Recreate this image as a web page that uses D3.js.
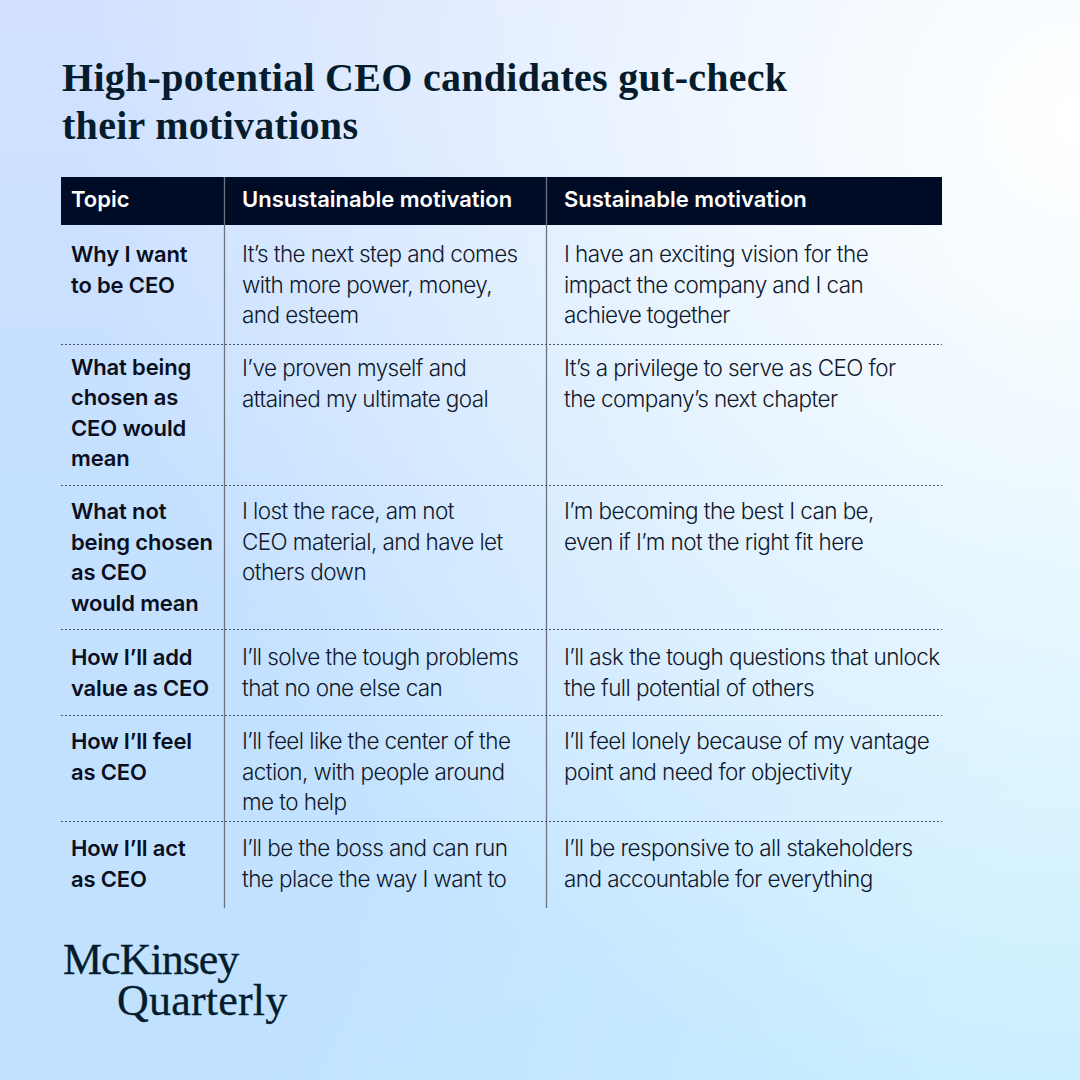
<!DOCTYPE html>
<html>
<head>
<meta charset="utf-8">
<script src="https://cdn.jsdelivr.net/npm/d3@7"></script>
<style>
  html, body { margin: 0; padding: 0; }
  svg { display: block; }
  .title { font-family: "Liberation Serif", serif; font-weight: 700; font-size: 40px; letter-spacing: 0.28px; fill: #051c2c; }
  .head { font-family: Inter, sans-serif; font-weight: 600; font-size: 22px; fill: #fff; }
  .topic { font-family: Inter, sans-serif; font-weight: 600; font-size: 22px; letter-spacing: -0.15px; fill: #0a0f1e; }
  .cell { font-family: Inter, sans-serif; font-weight: 300; font-size: 22.5px; letter-spacing: -0.58px; fill: #10182a; }
  .logo { font-family: "Liberation Serif", serif; font-size: 44px; fill: #051c2c; stroke: #051c2c; stroke-width: 0.3px; }
</style>
</head>
<body>
<svg></svg>
<script>
// Chart content
let titleLines = ["High-potential CEO candidates gut-check", "their motivations"];
let headers = ["Topic", "Unsustainable motivation", "Sustainable motivation"];
let topics = [
  ["Why I want", "to be CEO"],
  ["What being", "chosen as", "CEO would", "mean"],
  ["What not", "being chosen", "as CEO", "would mean"],
  ["How I’ll add", "value as CEO"],
  ["How I’ll feel", "as CEO"],
  ["How I’ll act", "as CEO"]
];
let unsustainable = [
  ["It’s the next step and comes", "with more power, money,", "and esteem"],
  ["I’ve proven myself and", "attained my ultimate goal"],
  ["I lost the race, am not", "CEO material, and have let", "others down"],
  ["I’ll solve the tough problems", "that no one else can"],
  ["I’ll feel like the center of the", "action, with people around", "me to help"],
  ["I’ll be the boss and can run", "the place the way I want to"]
];
let sustainable = [
  ["I have an exciting vision for the", "impact the company and I can", "achieve together"],
  ["It’s a privilege to serve as CEO for", "the company’s next chapter"],
  ["I’m becoming the best I can be,", "even if I’m not the right fit here"],
  ["I’ll ask the tough questions that unlock", "the full potential of others"],
  ["I’ll feel lonely because of my vantage", "point and need for objectivity"],
  ["I’ll be responsive to all stakeholders", "and accountable for everything"]
];
let logoLines = ["McKinsey", "Quarterly"];

// Layout
let svgWidth = 1080, svgHeight = 1080;
let rowEdges = [225, 344, 485, 629, 715, 821, 908];
let firstLineOffset = [37, 32, 34, 36, 34, 35];
let topicNudge = [0, -1.5, 0, 0, 0, 0];
let lineHeight = 30.6;
let columnX = [71, 242, 564];
let rule = [224.5, 546.5];
let logoX = [63, 117], logoY = [974, 1015], logoSpacing = [-1, 0.2];

let svg = d3.select("svg")
    .attr("width", svgWidth)
    .attr("height", svgHeight);

// Background: blue base, cyan towards the bottom right, white glow top right
let defs = svg.append("defs");
let base = defs.append("linearGradient")
    .attr("id", "bgBase")
    .attr("x1", 0).attr("y1", 0).attr("x2", 0).attr("y2", 1);
base.append("stop").attr("offset", "0%").attr("stop-color", "#d2e1ff");
base.append("stop").attr("offset", "45%").attr("stop-color", "#c4e0ff");
base.append("stop").attr("offset", "100%").attr("stop-color", "#c0e2ff");

let cyan = defs.append("linearGradient")
    .attr("id", "bgCyan")
    .attr("gradientUnits", "userSpaceOnUse")
    .attr("x1", 300).attr("y1", 700).attr("x2", 1000).attr("y2", 900);
cyan.append("stop").attr("offset", "0%").attr("stop-color", "#c8eaff").attr("stop-opacity", 0);
cyan.append("stop").attr("offset", "100%").attr("stop-color", "#c8eeff").attr("stop-opacity", 1);

let glow = defs.append("radialGradient")
    .attr("id", "bgWhite")
    .attr("gradientUnits", "userSpaceOnUse")
    .attr("cx", 1080).attr("cy", 120).attr("r", 1000);
glow.append("stop").attr("offset", "0%").attr("stop-color", "#ffffff").attr("stop-opacity", 1);
glow.append("stop").attr("offset", "35%").attr("stop-color", "#ffffff").attr("stop-opacity", 0.7);
glow.append("stop").attr("offset", "100%").attr("stop-color", "#ffffff").attr("stop-opacity", 0);

["bgBase", "bgCyan", "bgWhite"].forEach(id => {
  svg.append("rect").attr("width", svgWidth).attr("height", svgHeight).attr("fill", `url(#${id})`);
});

// Title
svg.selectAll(".title").data(titleLines).join("text")
    .attr("class", "title")
    .attr("x", 62)
    .attr("y", (d, i) => 91 + i * 48)
    .text(d => d);

// Header band
svg.append("rect")
    .attr("x", 61).attr("y", 177)
    .attr("width", 881).attr("height", 48)
    .attr("fill", "#000c26");

svg.selectAll(".head").data(headers).join("text")
    .attr("class", "head")
    .attr("x", (d, i) => columnX[i])
    .attr("y", 207)
    .text(d => d);

// Column rules
svg.selectAll(".rule").data(rule).join("line")
    .attr("class", "rule")
    .attr("x1", d => d).attr("x2", d => d)
    .attr("y1", 177).attr("y2", 908)
    .attr("stroke", "#6b7480")
    .attr("stroke-width", 1.3);

// Row separators
svg.selectAll(".sep").data(rowEdges.slice(1, -1)).join("line")
    .attr("class", "sep")
    .attr("x1", 61).attr("x2", 942)
    .attr("y1", d => d + 0.5).attr("y2", d => d + 0.5)
    .attr("stroke", "#4a5464")
    .attr("stroke-width", 1)
    .attr("stroke-dasharray", "2 2");

// Table text
[[topics, "topic"], [unsustainable, "cell"], [sustainable, "cell"]].forEach(([col, cls], c) => {
  col.forEach((lines, r) => {
    let nudge = c === 0 ? topicNudge[r] : 0;
    svg.selectAll(null).data(lines).join("text")
        .attr("class", cls)
        .attr("x", columnX[c])
        .attr("y", (d, i) => rowEdges[r] + firstLineOffset[r] + nudge + i * lineHeight)
        .text(d => d);
  });
});

// Wordmark
svg.selectAll(".logo").data(logoLines).join("text")
    .attr("class", "logo")
    .attr("x", (d, i) => logoX[i])
    .attr("y", (d, i) => logoY[i])
    .style("letter-spacing", (d, i) => logoSpacing[i] + "px")
    .text(d => d);
</script>
</body>
</html>
